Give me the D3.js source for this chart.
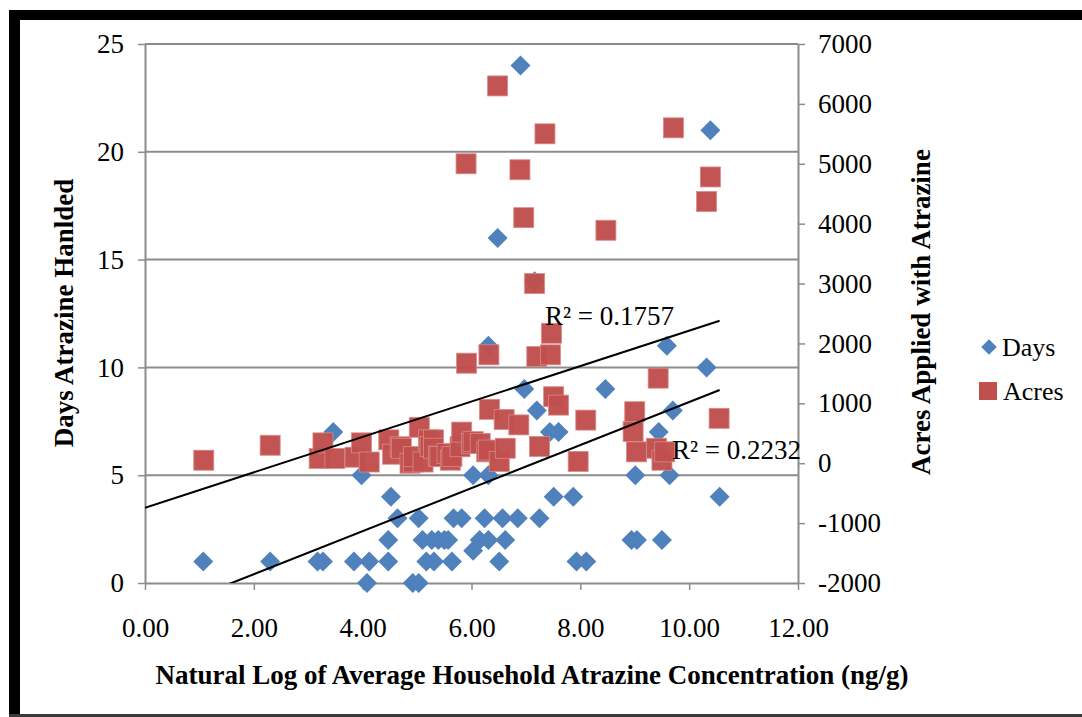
<!DOCTYPE html>
<html><head><meta charset="utf-8">
<script src="https://cdn.jsdelivr.net/npm/d3@7"></script>
<style>
body{margin:0;background:#fff;}
svg{display:block;font-family:"Liberation Serif","Times New Roman",serif;}
</style></head>
<body><svg id="c" width="1082" height="717"></svg>
<script>
// ---- data ----
const daysX = [1.07,2.30,3.17,3.27,3.46,3.84,3.98,4.08,4.12,4.47,4.47,4.52,4.64,4.92,5.03,5.03,5.10,5.17,5.27,5.31,5.39,5.50,5.57,5.64,5.67,5.82,6.03,6.03,6.15,6.24,6.31,6.31,6.31,6.48,6.51,6.57,6.62,6.85,6.90,6.97,7.16,7.20,7.25,7.44,7.51,7.60,7.87,7.93,8.11,8.46,8.94,9.01,9.04,9.44,9.50,9.59,9.64,9.70,10.32,10.39,10.56];
const daysY = [1,1,1,1,7,1,5,0,1,1,2,4,3,0,0,3,2,1,2,1,2,2,2,1,3,3,1.5,5,2,3,11,5,2,16,1,3,2,3,24,9,14,8,3,7,4,7,4,1,1,9,2,5,2,7,2,11,5,8,10,21,4];
const acresX = [1.08,2.30,3.20,3.27,3.49,3.86,3.98,4.12,4.48,4.55,4.69,4.71,4.87,4.93,4.93,5.04,5.11,5.21,5.24,5.30,5.30,5.39,5.42,5.55,5.61,5.64,5.79,5.82,5.90,5.91,6.00,6.03,6.16,6.28,6.31,6.32,6.33,6.48,6.51,6.60,6.62,6.87,6.89,6.96,7.16,7.20,7.25,7.35,7.45,7.47,7.51,7.60,7.96,8.10,8.47,8.97,9.00,9.03,9.40,9.43,9.50,9.55,9.71,10.32,10.39,10.55];
const acresY = [50,300,80,340,80,100,340,20,390,150,275,250,0,20,110,600,20,390,280,390,250,120,110,160,50,110,275,520,5000,1670,330,360,330,190,220,1810,900,6300,30,730,250,640,4900,4100,3000,1780,280,5500,1810,2170,1110,970,30,720,3890,530,860,190,250,1420,50,190,5600,4370,4780,750];
// linear trendlines as drawn in the reference: [Days, Acres]
const trendSlope = [0.998, 295.6];
const trendIntercept = [-1.587, -743];
const trendXRange = [0, 10.56];
const xTicks = [0,2,4,6,8,10,12];
const leftTicks = [0,5,10,15,20,25];
const rightTicks = [-2000,-1000,0,1000,2000,3000,4000,5000,6000,7000];
const seriesNames = ["Days","Acres"];
const r2Labels = ["R\u00B2 = 0.1757","R\u00B2 = 0.2232"];
const titles = {x:"Natural Log of Average Household Atrazine Concentration (ng/g)", yL:"Days Atrazine Hanlded", yR:"Acres Applied with Atrazine"};

const blue="#4F81BD", red="#C0504D", grid="#8c8c8c";
const FS=27;
const svg=d3.select("#c");
const L=145,R=798,T=44,B=583;
const x=d3.scaleLinear().domain([0,12]).range([L,R]);
const yL=d3.scaleLinear().domain([0,25]).range([B,T]);
const yR=d3.scaleLinear().domain([-2000,7000]).range([B,T]);

// frame
svg.append("rect").attr("x",9).attr("y",10).attr("width",1082-9).attr("height",10).attr("fill","#000");
svg.append("rect").attr("x",9).attr("y",10).attr("width",11).attr("height",707).attr("fill","#000");
svg.append("rect").attr("x",9).attr("y",714).attr("width",1082-9).attr("height",3).attr("fill","#3a3a3a");

// gridlines
svg.append("g").selectAll("line").data(leftTicks.filter(d=>d>0)).join("line")
 .attr("x1",L).attr("x2",R).attr("y1",d=>yL(d)).attr("y2",d=>yL(d))
 .attr("stroke",grid).attr("stroke-width",2);

function styleAxis(g){
  g.select(".domain").attr("stroke",grid).attr("stroke-width",2);
  g.selectAll(".tick line").attr("stroke",grid).attr("stroke-width",1.5);
  g.selectAll(".tick text").attr("font-family","Liberation Serif").attr("font-size",FS).attr("fill","#000");
}
const gx=svg.append("g").attr("transform",`translate(0,${B})`)
 .call(d3.axisBottom(x).tickValues(xTicks).tickFormat(d=>d.toFixed(2)).tickSizeInner(7).tickSizeOuter(0).tickPadding(28));
styleAxis(gx);
const gl=svg.append("g").attr("transform",`translate(${L},0)`)
 .call(d3.axisLeft(yL).tickValues(leftTicks).tickFormat(d=>String(d)).tickSizeInner(7).tickSizeOuter(0).tickPadding(14));
styleAxis(gl);
const gr=svg.append("g").attr("transform",`translate(${R},0)`)
 .call(d3.axisRight(yR).tickValues(rightTicks).tickFormat(d=>String(d)).tickSizeInner(7).tickSizeOuter(0).tickPadding(13));
styleAxis(gr);

// points
const diamond=d3.symbol().type(d3.symbolSquare).size(200);
svg.append("g").selectAll("path").data(daysX.map((d,i)=>[d,daysY[i]])).join("path")
 .attr("d",diamond).attr("transform",d=>`translate(${x(d[0])},${yL(d[1])}) rotate(45)`)
 .attr("fill",blue);
svg.append("g").selectAll("rect").data(acresX.map((d,i)=>[d,acresY[i]])).join("rect")
 .attr("x",d=>x(d[0])-10).attr("y",d=>yR(d[1])-10).attr("width",20).attr("height",20)
 .attr("fill",red).attr("stroke","#d98a88").attr("stroke-width",0.8).attr("fill-opacity",0.97);

// trendlines
svg.append("clipPath").attr("id","pc").append("rect").attr("x",L).attr("y",T).attr("width",R-L).attr("height",B-T);
const lg=svg.append("g").attr("clip-path","url(#pc)");
const yScales=[yL,yR];
[0,1].forEach(i=>{
  lg.append("line")
   .attr("x1",x(trendXRange[0])).attr("y1",yScales[i](trendSlope[i]*trendXRange[0]+trendIntercept[i]))
   .attr("x2",x(trendXRange[1])).attr("y2",yScales[i](trendSlope[i]*trendXRange[1]+trendIntercept[i]))
   .attr("stroke","#000").attr("stroke-width",2);
});

// R2 labels
svg.append("text").attr("x",545).attr("y",325).attr("font-size",FS).text(r2Labels[0]);
svg.append("text").attr("x",672).attr("y",459).attr("font-size",FS).text(r2Labels[1]);

// titles
svg.append("text").attr("x",532).attr("y",684).attr("text-anchor","middle").attr("font-weight","bold").attr("font-size",FS).text(titles.x);
svg.append("text").attr("transform","translate(73,313) rotate(-90)").attr("text-anchor","middle").attr("font-weight","bold").attr("font-size",FS).text(titles.yL);
svg.append("text").attr("transform","translate(930,312) rotate(-90)").attr("text-anchor","middle").attr("font-weight","bold").attr("font-size",FS).text(titles.yR);

// legend
svg.append("path").attr("d",d3.symbol().type(d3.symbolSquare).size(120)).attr("transform","translate(989,347) rotate(45)").attr("fill",blue);
svg.append("text").attr("x",1002).attr("y",356).attr("font-size",26).text(seriesNames[0]);
svg.append("rect").attr("x",979).attr("y",382).attr("width",18).attr("height",18).attr("fill",red);
svg.append("text").attr("x",1003).attr("y",400).attr("font-size",26).text(seriesNames[1]);
</script></body></html>
